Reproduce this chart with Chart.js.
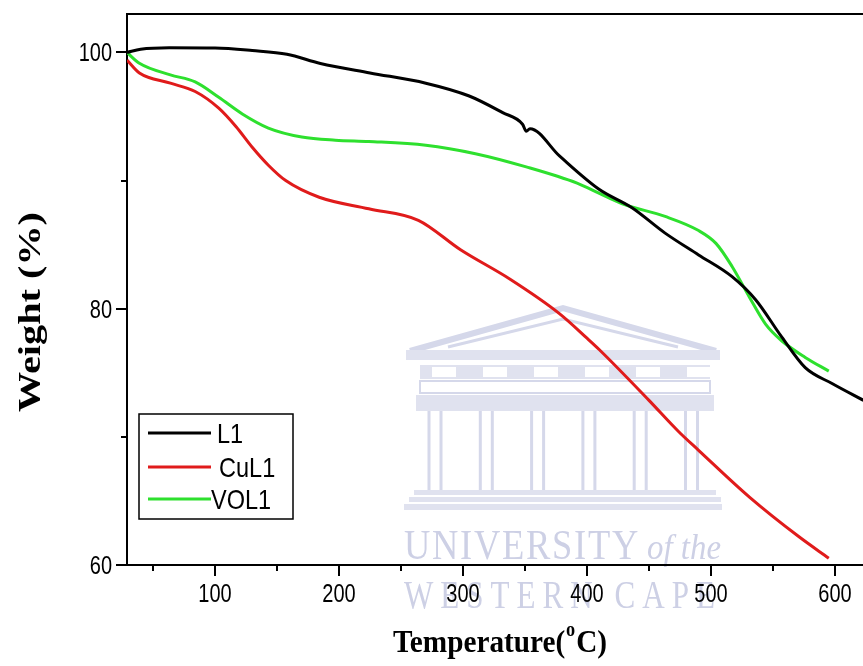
<!DOCTYPE html>
<html>
<head>
<meta charset="utf-8">
<script src="https://cdn.jsdelivr.net/npm/chart.js@4.4.1/dist/chart.umd.min.js"></script>
<style>
  html, body { margin: 0; padding: 0; background: #fff; overflow: hidden; }
  canvas { display: block; }
</style>
</head>
<body>
<canvas id="tga" width="863" height="666"></canvas>
<script>
// TGA curves: temperature (°C) against remaining weight (%)
const l1Temp    = [29, 40, 63, 100, 130, 158, 185, 225, 270, 305, 332, 348, 351, 354, 378, 410, 436, 463, 490, 517, 536, 557, 576, 598, 623];
const l1Weight  = [100.0, 100.25, 100.37, 100.35, 100.15, 99.86, 99.14, 98.4, 97.6, 96.6, 95.3, 94.4, 93.85, 94.05, 91.9, 89.3, 87.9, 85.9, 84.2, 82.5, 80.7, 77.8, 75.4, 74.15, 72.85];

const cuL1Temp   = [29, 39, 64, 84, 103, 117, 130, 143, 157, 184, 224, 264, 298, 338, 378, 400, 410, 450, 474, 490, 531, 571, 595];
const cuL1Weight = [99.4, 98.4, 97.6, 96.95, 95.65, 94.2, 92.6, 91.2, 90.0, 88.7, 87.8, 86.9, 84.6, 82.3, 79.6, 77.7, 76.8, 72.85, 70.4, 68.95, 65.3, 62.2, 60.53];

const vol1Temp   = [29, 39, 64, 84, 103, 122, 143, 170, 197, 224, 270, 310, 351, 392, 410, 428, 463, 490, 504, 517, 531, 544, 557, 576, 595];
const vol1Weight = [100.0, 99.15, 98.25, 97.7, 96.5, 95.2, 94.1, 93.4, 93.15, 93.05, 92.76, 92.1, 91.07, 89.8, 89.0, 88.2, 87.2, 86.1, 85.1, 83.3, 80.9, 78.8, 77.5, 76.2, 75.13];

const seriesNames  = ['L1', 'CuL1', 'VOL1'];
const seriesColors = ['#000000', '#e01b1b', '#2ee02e'];

const xTickValues  = [100, 200, 300, 400, 500, 600];
const xMinorValues = [50, 150, 250, 350, 450, 550];
const yTickValues  = [60, 80, 100];
const yMinorValues = [70, 90];

const xTitleMain = 'Temperature(';
const xTitleSup  = 'o';
const xTitleEnd  = 'C)';
const yTitle     = 'Weight (%)';

const SANS  = '"Liberation Sans", Arial, sans-serif';
const SERIF = '"Liberation Serif", "Times New Roman", serif';

function pairs(xs, ys) { return xs.map((x, i) => ({ x: x, y: ys[i] })); }

// Draw text squeezed horizontally by factor sx (condensed look)
function squeezed(ctx, text, font, x, y, sx, align, baseline, spacing) {
  ctx.save();
  ctx.font = font;
  if (spacing) ctx.letterSpacing = spacing;
  ctx.translate(x, y);
  ctx.scale(sx, 1);
  ctx.textAlign = align;
  ctx.textBaseline = baseline;
  ctx.fillText(text, 0, 0);
  ctx.restore();
}

// Draw text fitted to a target width
function fittedText(ctx, text, font, cx, baseline, width, spacing) {
  ctx.save();
  ctx.font = font;
  if (spacing) ctx.letterSpacing = spacing;
  const w = ctx.measureText(text).width;
  ctx.restore();
  squeezed(ctx, text, font, cx, baseline, width / w, 'center', 'alphabetic', spacing);
}

// Faint institutional watermark behind the plot
const watermark = {
  id: 'watermark',
  beforeDraw(chart) {
    const ctx = chart.ctx;
    ctx.save();
    const fill = '#e0e2ef';
    const line = '#d5d8ea';
    ctx.strokeStyle = line;
    ctx.fillStyle = fill;
    // pediment
    ctx.lineWidth = 6;
    ctx.beginPath();
    ctx.moveTo(410, 351); ctx.lineTo(563, 308); ctx.lineTo(716, 351);
    ctx.stroke();
    ctx.lineWidth = 3;
    ctx.beginPath();
    ctx.moveTo(448, 347); ctx.lineTo(563, 319); ctx.lineTo(678, 347);
    ctx.stroke();
    // cornice
    ctx.fillRect(406, 350, 314, 10);
    // frieze with triglyphs
    ctx.fillRect(420, 365, 290, 14);
    ctx.fillStyle = '#ffffff';
    for (let i = 0; i < 6; i++) {
      ctx.fillRect(432 + i * 51, 367, 24, 10);
    }
    ctx.fillStyle = fill;
    // architrave outline
    ctx.lineWidth = 2;
    ctx.strokeRect(420, 381, 290, 12);
    // capitals band
    ctx.fillRect(416, 395, 298, 16);
    // columns
    ctx.lineWidth = 3;
    for (let i = 0; i < 6; i++) {
      const cx = 435 + i * 51.3;
      ctx.beginPath();
      ctx.moveTo(cx - 6, 411); ctx.lineTo(cx - 6, 490);
      ctx.moveTo(cx + 6, 411); ctx.lineTo(cx + 6, 490);
      ctx.stroke();
    }
    // steps
    ctx.fillRect(414, 490, 302, 5);
    ctx.fillRect(409, 497, 312, 5);
    ctx.fillRect(404, 504, 318, 6);
    // lettering
    ctx.fillStyle = '#cdd0e5';
    fittedText(ctx, 'UNIVERSITY', '42px ' + SERIF, 522, 559, 236, '2px');
    fittedText(ctx, 'of the', 'italic 36px ' + SERIF, 684, 559, 74);
    fittedText(ctx, 'WESTERN CAPE', '40px ' + SERIF, 563, 608, 318, '9px');
    ctx.restore();
  }
};

// Tick marks and labels, top frame line, axis titles and legend box
const decorations = {
  id: 'decorations',
  afterDraw(chart) {
    const ctx = chart.ctx;
    const a = chart.chartArea;
    const xs = chart.scales.x, ys = chart.scales.y;
    ctx.save();
    ctx.strokeStyle = '#000';
    ctx.lineWidth = 2;
    ctx.beginPath();
    ctx.moveTo(a.left, a.top); ctx.lineTo(a.right, a.top);
    ctx.stroke();
    ctx.beginPath();
    xTickValues.forEach(v => { const p = Math.round(xs.getPixelForValue(v)); ctx.moveTo(p, a.bottom); ctx.lineTo(p, a.bottom + 11); });
    xMinorValues.forEach(v => { const p = Math.round(xs.getPixelForValue(v)); ctx.moveTo(p, a.bottom); ctx.lineTo(p, a.bottom + 6); });
    yTickValues.forEach(v => { const p = Math.round(ys.getPixelForValue(v)); ctx.moveTo(a.left, p); ctx.lineTo(a.left - 11, p); });
    yMinorValues.forEach(v => { const p = Math.round(ys.getPixelForValue(v)); ctx.moveTo(a.left, p); ctx.lineTo(a.left - 6, p); });
    ctx.stroke();

    // tick labels, condensed sans
    ctx.fillStyle = '#000';
    const tf = '25px ' + SANS;
    xs.ticks.forEach(t => {
      squeezed(ctx, String(t.value), tf, xs.getPixelForValue(t.value), a.bottom + 37, 0.8, 'center', 'alphabetic');
    });
    ys.ticks.forEach(t => {
      squeezed(ctx, String(t.value), tf, a.left - 15, ys.getPixelForValue(t.value) + 9, 0.8, 'right', 'alphabetic');
    });

    // x title with superscript "o"
    const big = 'bold 32px ' + SERIF;
    const small = 'bold 20px ' + SERIF;
    ctx.font = big; const w1 = ctx.measureText(xTitleMain).width; const w3 = ctx.measureText(xTitleEnd).width;
    ctx.font = small; const w2 = ctx.measureText(xTitleSup).width;
    const target = 214;
    const sx = target / (w1 + w2 + w3 + 2);
    const cx = 500;
    const base = 652;
    ctx.save();
    ctx.translate(cx - target / 2, base);
    ctx.scale(sx, 1);
    ctx.textAlign = 'left'; ctx.textBaseline = 'alphabetic';
    ctx.font = big; ctx.fillText(xTitleMain, 0, 0);
    ctx.font = small; ctx.fillText(xTitleSup, w1 + 1, -16);
    ctx.font = big; ctx.fillText(xTitleEnd, w1 + w2 + 2, 0);
    ctx.restore();

    // y title, rotated
    ctx.save();
    ctx.translate(40, 312);
    ctx.rotate(-Math.PI / 2);
    ctx.font = 'bold 31px ' + SERIF;
    const wy = ctx.measureText(yTitle).width;
    ctx.scale(200 / wy, 1);
    ctx.textAlign = 'center'; ctx.textBaseline = 'alphabetic';
    ctx.fillText(yTitle, 0, 0);
    ctx.restore();

    // legend box
    const bx = a.left + 12, by = a.top + 400, bw = 154, bh = 105;
    ctx.fillStyle = '#fff';
    ctx.fillRect(bx, by, bw, bh);
    ctx.strokeStyle = '#000';
    ctx.lineWidth = 1.5;
    ctx.strokeRect(bx, by, bw, bh);
    const rowY = [19, 53, 85];
    const textX = [78, 80, 72];
    chart.data.datasets.forEach((ds, i) => {
      const y = by + rowY[i];
      ctx.strokeStyle = ds.borderColor;
      ctx.lineWidth = 3;
      ctx.beginPath(); ctx.moveTo(bx + 9, y); ctx.lineTo(bx + 72, y); ctx.stroke();
      ctx.fillStyle = '#000';
      squeezed(ctx, ds.label, '28px ' + SANS, bx + textX[i], y + 10, 0.84, 'left', 'alphabetic');
    });
    ctx.restore();
  }
};

new Chart(document.getElementById('tga'), {
  type: 'line',
  data: {
    datasets: [
      { label: seriesNames[0], data: pairs(l1Temp, l1Weight) },
      { label: seriesNames[1], data: pairs(cuL1Temp, cuL1Weight) },
      { label: seriesNames[2], data: pairs(vol1Temp, vol1Weight) }
    ].map((d, i) => Object.assign(d, {
      borderColor: seriesColors[i], borderWidth: 3, pointRadius: 0,
      fill: false, cubicInterpolationMode: 'monotone'
    }))
  },
  options: {
    responsive: false,
    animation: false,
    events: [],
    layout: { padding: { top: 14, right: 0, bottom: 0, left: 0 } },
    plugins: { legend: { display: false }, tooltip: { enabled: false } },
    scales: {
      x: {
        type: 'linear', min: 29, max: 622.6,
        afterBuildTicks: s => { s.ticks = xTickValues.map(v => ({ value: v })); },
        afterFit: s => { s.height = 101; s.paddingLeft = 0; s.paddingRight = 0; },
        grid: { display: false, drawTicks: false },
        border: { display: true, color: '#000', width: 2 },
        ticks: { display: false }
      },
      y: {
        type: 'linear', min: 60, max: 103,
        afterBuildTicks: s => { s.ticks = yTickValues.map(v => ({ value: v })); },
        afterFit: s => { s.width = 127; s.paddingTop = 0; s.paddingBottom = 0; },
        grid: { display: false, drawTicks: false },
        border: { display: true, color: '#000', width: 2 },
        ticks: { display: false }
      }
    }
  },
  plugins: [watermark, decorations]
});
</script>
</body>
</html>
